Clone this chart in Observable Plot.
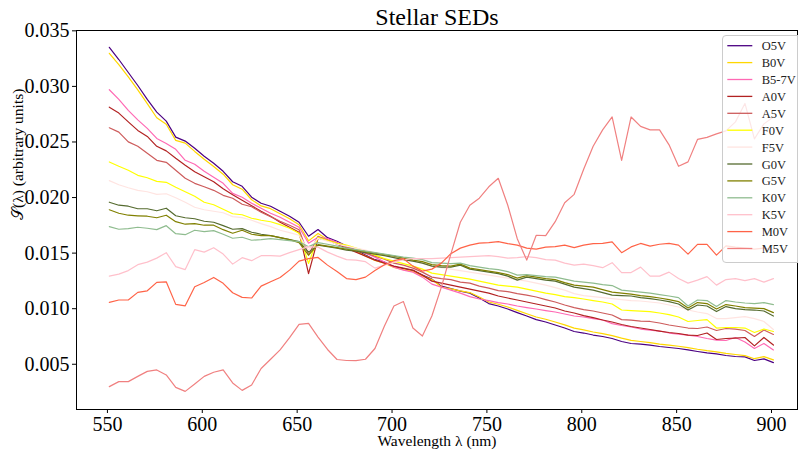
<!DOCTYPE html>
<html><head><meta charset="utf-8">
<script src="https://cdn.jsdelivr.net/npm/d3@7"></script>
<script src="https://cdn.jsdelivr.net/npm/@observablehq/plot@0.6"></script>
<style>
body{margin:0;background:#fff;overflow:hidden}
#wrap{position:relative;width:798px;height:457px;overflow:hidden}
</style></head><body><div id="wrap"></div>
<script>
const wavelength = [551,556,561,566,571,576,581,586,591,596,601,606,611,616,621,626,631,636,641,646,651,656,661,666,671,676,681,686,691,696,701,706,711,716,721,726,731,736,741,746,751,756,761,766,771,776,781,786,791,796,801,806,811,816,821,826,831,836,841,846,851,856,861,866,871,876,881,886,891,896,901];

const o5v = [0.03352,0.03242,0.03125,0.03008,0.02883,0.02769,0.02688,0.02544,0.02508,0.02443,
 0.02371,0.02308,0.02236,0.02142,0.02101,0.02003,0.01949,0.01922,0.01877,0.01832,
 0.01778,0.01652,0.01712,0.01639,0.01607,0.01563,0.01527,0.01482,0.01441,0.01419,
 0.01378,0.01360,0.01343,0.01302,0.01266,0.01203,0.01181,0.01158,0.01140,0.01096,
 0.01046,0.01024,0.00997,0.00965,0.00934,0.00902,0.00880,0.00853,0.00826,0.00795,
 0.00781,0.00763,0.00750,0.00732,0.00705,0.00687,0.00682,0.00673,0.00660,0.00651,
 0.00642,0.00629,0.00615,0.00602,0.00593,0.00579,0.00570,0.00566,0.00534,0.00548,
 0.00515];
const b0v = [0.03298,0.03195,0.03085,0.02968,0.02845,0.02718,0.02660,0.02514,0.02490,0.02415,
 0.02345,0.02280,0.02210,0.02115,0.02075,0.01980,0.01925,0.01900,0.01855,0.01810,
 0.01755,0.01610,0.01677,0.01622,0.01595,0.01555,0.01515,0.01475,0.01435,0.01410,
 0.01372,0.01352,0.01335,0.01295,0.01262,0.01195,0.01178,0.01160,0.01145,0.01105,
 0.01060,0.01040,0.01015,0.00985,0.00955,0.00925,0.00905,0.00880,0.00855,0.00825,
 0.00810,0.00790,0.00775,0.00758,0.00735,0.00715,0.00705,0.00695,0.00682,0.00672,
 0.00662,0.00650,0.00635,0.00622,0.00612,0.00598,0.00588,0.00578,0.00550,0.00569,
 0.00539];
const b57v = [0.02970,0.02883,0.02784,0.02699,0.02622,0.02532,0.02487,0.02434,0.02335,0.02299,
 0.02236,0.02182,0.02128,0.02038,0.02003,0.01949,0.01904,0.01859,0.01823,0.01778,
 0.01733,0.01589,0.01643,0.01630,0.01598,0.01563,0.01527,0.01500,0.01464,0.01419,
 0.01374,0.01347,0.01329,0.01284,0.01221,0.01194,0.01167,0.01140,0.01109,0.01087,
 0.01073,0.01055,0.01042,0.01024,0.01010,0.00997,0.00983,0.00970,0.00952,0.00934,
 0.00925,0.00911,0.00898,0.00866,0.00849,0.00835,0.00817,0.00808,0.00799,0.00781,
 0.00772,0.00763,0.00750,0.00732,0.00718,0.00714,0.00741,0.00700,0.00642,0.00687,
 0.00629];
const a0v = [0.02813,0.02760,0.02681,0.02604,0.02550,0.02461,0.02420,0.02353,0.02290,0.02232,
 0.02187,0.02142,0.02079,0.02025,0.01976,0.01926,0.01877,0.01832,0.01778,0.01733,
 0.01688,0.01315,0.01634,0.01616,0.01580,0.01545,0.01509,0.01473,0.01437,0.01410,
 0.01383,0.01365,0.01347,0.01302,0.01248,0.01230,0.01212,0.01194,0.01176,0.01158,
 0.01140,0.01114,0.01096,0.01078,0.01060,0.01042,0.01024,0.01006,0.00979,0.00961,
 0.00938,0.00920,0.00898,0.00880,0.00858,0.00840,0.00826,0.00813,0.00799,0.00786,
 0.00777,0.00763,0.00759,0.00781,0.00723,0.00732,0.00736,0.00741,0.00665,0.00741,
 0.00673];
const a5v = [0.02628,0.02589,0.02501,0.02461,0.02398,0.02335,0.02317,0.02245,0.02173,0.02128,
 0.02097,0.02065,0.02020,0.01994,0.01940,0.01917,0.01868,0.01828,0.01787,0.01751,
 0.01711,0.01482,0.01652,0.01616,0.01589,0.01558,0.01527,0.01500,0.01473,0.01446,
 0.01410,0.01392,0.01365,0.01329,0.01284,0.01271,0.01262,0.01239,0.01230,0.01203,
 0.01185,0.01163,0.01154,0.01136,0.01122,0.01105,0.01082,0.01060,0.01033,0.01010,
 0.00992,0.00979,0.00961,0.00943,0.00902,0.00898,0.00889,0.00885,0.00871,0.00853,
 0.00840,0.00826,0.00822,0.00835,0.00804,0.00822,0.00817,0.00804,0.00750,0.00808,
 0.00768];
const f0v = [0.02320,0.02281,0.02245,0.02200,0.02178,0.02146,0.02137,0.02092,0.02052,0.02012,
 0.01958,0.01935,0.01895,0.01854,0.01845,0.01814,0.01796,0.01782,0.01756,0.01724,
 0.01679,0.01407,0.01643,0.01612,0.01589,0.01572,0.01545,0.01518,0.01482,0.01450,
 0.01428,0.01405,0.01383,0.01356,0.01320,0.01307,0.01293,0.01280,0.01266,0.01248,
 0.01230,0.01212,0.01203,0.01194,0.01176,0.01158,0.01140,0.01127,0.01109,0.01100,
 0.01087,0.01073,0.01060,0.01042,0.00988,0.00983,0.00979,0.00974,0.00961,0.00947,
 0.00925,0.00885,0.00894,0.00902,0.00826,0.00831,0.00831,0.00826,0.00786,0.00817,
 0.00795];
const f5v = [0.02152,0.02115,0.02088,0.02065,0.02052,0.02029,0.02034,0.01998,0.01958,0.01913,
 0.01890,0.01877,0.01863,0.01828,0.01819,0.01796,0.01765,0.01738,0.01706,0.01684,
 0.01661,0.01527,0.01634,0.01607,0.01580,0.01563,0.01545,0.01527,0.01504,0.01482,
 0.01464,0.01446,0.01428,0.01410,0.01383,0.01369,0.01356,0.01343,0.01329,0.01316,
 0.01302,0.01289,0.01275,0.01262,0.01248,0.01230,0.01212,0.01190,0.01167,0.01136,
 0.01118,0.01109,0.01100,0.01091,0.01082,0.01073,0.01069,0.01060,0.01051,0.01033,
 0.01015,0.00988,0.00970,0.00956,0.00911,0.00911,0.00920,0.00929,0.00911,0.00885,
 0.00813];
const g0v = [0.01958,0.01931,0.01922,0.01899,0.01899,0.01881,0.01904,0.01836,0.01818,0.01809,
 0.01787,0.01778,0.01747,0.01715,0.01720,0.01688,0.01670,0.01657,0.01639,0.01621,
 0.01603,0.01509,0.01572,0.01558,0.01545,0.01527,0.01518,0.01504,0.01491,0.01477,
 0.01459,0.01441,0.01428,0.01410,0.01383,0.01374,0.01374,0.01392,0.01356,0.01343,
 0.01329,0.01316,0.01293,0.01257,0.01284,0.01271,0.01257,0.01248,0.01221,0.01194,
 0.01181,0.01167,0.01145,0.01122,0.01118,0.01114,0.01100,0.01091,0.01078,0.01064,
 0.01042,0.00988,0.01033,0.01024,0.00974,0.01019,0.01001,0.00992,0.00988,0.00979,
 0.00934];
const g5v = [0.01890,0.01859,0.01841,0.01836,0.01832,0.01818,0.01841,0.01783,0.01760,0.01765,
 0.01751,0.01751,0.01711,0.01679,0.01706,0.01670,0.01657,0.01657,0.01639,0.01621,
 0.01594,0.01482,0.01576,0.01563,0.01549,0.01536,0.01527,0.01513,0.01500,0.01486,
 0.01473,0.01455,0.01437,0.01423,0.01396,0.01387,0.01383,0.01401,0.01365,0.01352,
 0.01338,0.01325,0.01307,0.01275,0.01298,0.01284,0.01271,0.01262,0.01235,0.01212,
 0.01203,0.01194,0.01172,0.01149,0.01140,0.01131,0.01118,0.01109,0.01096,0.01082,
 0.01064,0.01006,0.01055,0.01046,0.00997,0.01037,0.01024,0.01010,0.01006,0.01001,
 0.00965];
const k0v = [0.01738,0.01715,0.01720,0.01733,0.01724,0.01711,0.01747,0.01675,0.01666,0.01706,
 0.01693,0.01702,0.01670,0.01634,0.01643,0.01616,0.01621,0.01630,0.01621,0.01612,
 0.01603,0.01558,0.01594,0.01580,0.01563,0.01545,0.01531,0.01518,0.01504,0.01491,
 0.01477,0.01464,0.01455,0.01441,0.01414,0.01410,0.01405,0.01410,0.01387,0.01374,
 0.01361,0.01352,0.01334,0.01302,0.01307,0.01298,0.01289,0.01284,0.01266,0.01248,
 0.01239,0.01230,0.01217,0.01208,0.01167,0.01158,0.01149,0.01140,0.01127,0.01114,
 0.01100,0.01024,0.01078,0.01073,0.01019,0.01073,0.01060,0.01051,0.01046,0.01055,
 0.01037];
const k5v = [0.01293,0.01311,0.01343,0.01396,0.01419,0.01455,0.01504,0.01378,0.01352,0.01531,
 0.01509,0.01549,0.01491,0.01401,0.01459,0.01432,0.01477,0.01477,0.01473,0.01504,
 0.01531,0.01558,0.01554,0.01509,0.01473,0.01441,0.01437,0.01423,0.01365,0.01392,
 0.01419,0.01441,0.01450,0.01450,0.01450,0.01455,0.01459,0.01464,0.01468,0.01473,
 0.01477,0.01468,0.01455,0.01459,0.01468,0.01459,0.01441,0.01437,0.01410,0.01392,
 0.01401,0.01387,0.01369,0.01414,0.01325,0.01325,0.01374,0.01293,0.01293,0.01329,
 0.01271,0.01230,0.01257,0.01289,0.01212,0.01262,0.01271,0.01253,0.01271,0.01239,
 0.01271];
const m0v = [0.01057,0.01078,0.01078,0.01147,0.01161,0.01237,0.01242,0.01039,0.01026,0.01197,
 0.01235,0.01281,0.01228,0.01143,0.01102,0.01096,0.01203,0.01242,0.01280,0.01347,
 0.01428,0.01450,0.01461,0.01392,0.01334,0.01271,0.01262,0.01284,0.01343,0.01396,
 0.01432,0.01450,0.01383,0.01338,0.01356,0.01410,0.01495,0.01545,0.01572,0.01590,
 0.01594,0.01603,0.01585,0.01572,0.01545,0.01536,0.01554,0.01558,0.01572,0.01549,
 0.01572,0.01585,0.01587,0.01601,0.01504,0.01556,0.01587,0.01563,0.01580,0.01587,
 0.01572,0.01491,0.01578,0.01578,0.01482,0.01565,0.01554,0.01545,0.01536,0.01545,
 0.01527];
const m5v = [0.00299,0.00344,0.00344,0.00391,0.00436,0.00449,0.00404,0.00292,0.00256,0.00323,
 0.00391,0.00428,0.00449,0.00332,0.00265,0.00314,0.00462,0.00545,0.00629,0.00739,
 0.00859,0.00868,0.00745,0.00633,0.00543,0.00534,0.00533,0.00545,0.00642,0.00844,
 0.01024,0.01064,0.00826,0.00754,0.00934,0.01194,0.01491,0.01778,0.01931,0.01994,
 0.02097,0.02173,0.01931,0.01630,0.01437,0.01661,0.01657,0.01783,0.01953,0.02029,
 0.02254,0.02461,0.02609,0.02725,0.02335,0.02725,0.02640,0.02609,0.02609,0.02474,
 0.02281,0.02321,0.02523,0.02541,0.02573,0.02600,0.02681,0.02847,0.02528,0.02663,
 0.02725];

const names = ["O5V","B0V","B5-7V","A0V","A5V","F0V","F5V","G0V","G5V","K0V","K5V","M0V","M5V"];
const colors = ["#4b0082","#ffd700","#ff69b4","#b22222","#cd5c5c","#ffff00","#ffe4e1","#556b2f","#808000","#8fbc8f","#ffc0cb","#ff6347","#f08080"];
const xTicks = [550,600,650,700,750,800,850,900];
const yTicks = [0.005,0.010,0.015,0.020,0.025,0.030,0.035];
const title = "Stellar SEDs";
const xLabel = "Wavelength λ (nm)";
const yLabel = "𝒮(λ) (arbitrary units)";

const seriesValues = [o5v,b0v,b57v,a0v,a5v,f0v,f5v,g0v,g5v,k0v,k5v,m0v,m5v];
const rows = names.flatMap((n,k)=>seriesValues[k].map((v,i)=>({type:n, wl:wavelength[i], s:v})));

const plot = Plot.plot({
  width: 798, height: 457,
  marginLeft: 76, marginRight: 1, marginTop: 30, marginBottom: 48,
  style: {fontFamily: "'Liberation Serif', serif", background: "white", color: "black"},
  x: {domain: [533.7, 913.7]},
  y: {domain: [0.00093, 0.03503]},
  color: {domain: names, range: colors},
  marks: [
    Plot.line(rows, {x: "wl", y: "s", z: "type", stroke: "type", strokeWidth: 1.2}),
    Plot.frame({stroke: "black", strokeWidth: 1}),
    Plot.axisX({ticks: xTicks, tickSize: 4, tickPadding: 3, fontSize: 20, label: null}),
    Plot.axisY({ticks: yTicks, tickSize: 4, tickPadding: 3, fontSize: 20, tickFormat: d3.format(".3f"), label: null}),
    Plot.text([title], {frameAnchor: "top", lineAnchor: "middle", dy: -13, fontSize: 24, text: d => d}),
    Plot.text([xLabel], {frameAnchor: "bottom", lineAnchor: "middle", dy: 32, fontSize: 15.5, text: d => d}),
    Plot.text([yLabel], {frameAnchor: "left", lineAnchor: "middle", dx: -58, rotate: -90, fontSize: 15.5, text: d => d})
  ]
});
const wrap = document.getElementById("wrap");
wrap.appendChild(plot);

// legend (drawn from the same names/colors arrays)
const leg = d3.select(wrap).append("div")
  .style("position","absolute").style("left","722px").style("top","35px")
  .style("width","90px").style("height","226px")
  .style("border","1px solid #cccccc").style("border-radius","4px")
  .style("background","rgba(255,255,255,0.8)");
const lsvg = leg.append("svg").attr("width",90).attr("height",226)
  .style("font-family","'Liberation Serif', serif").style("font-size","12.5px");
names.forEach((n,k)=>{
  const yy = 9.7 + 16.9*k;
  lsvg.append("line").attr("x1",4.3).attr("x2",29.3).attr("y1",yy).attr("y2",yy)
    .attr("stroke",colors[k]).attr("stroke-width",1.3);
  lsvg.append("text").attr("x",38.7).attr("y",yy).attr("dy","0.36em").attr("fill","#222").text(n);
});
</script></body></html>
